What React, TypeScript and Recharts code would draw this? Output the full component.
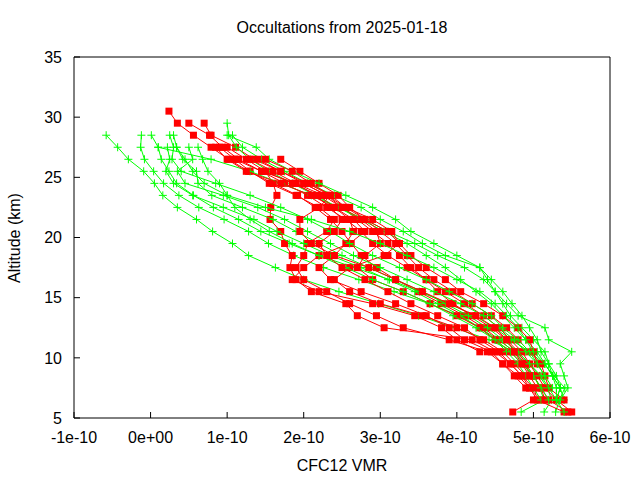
import { ScatterChart, Scatter, XAxis, YAxis } from "recharts";

// altitude levels (km), top to bottom
const alts = [
  30.5, 29.5, 28.5, 27.5, 26.5, 25.5, 24.5, 23.5, 22.5, 21.5, 20.5, 19.5, 18.5,
  17.5, 16.5, 15.5, 14.5, 13.5, 12.5, 11.5, 10.5, 9.5, 8.5, 7.5, 6.5, 5.5,
];

// CFC12 VMR in units of 1e-10, one value per altitude level (null = no data)
const g1 = [null, null, -0.58, -0.43, -0.29, -0.09, 0.05, 0.16, 0.35, 0.6, 0.81, 1.07, 1.28, 1.63, 2.0, 2.46, 2.98, 3.5, 3.97, 4.42, 4.75, 4.95, 5.08, 5.18, 5.24, 5.14];
const g2 = [null, null, -0.12, -0.13, -0.08, 0.04, 0.17, 0.37, 0.63, 0.96, 1.28, 1.54, 1.87, 2.26, 2.72, 3.18, 3.64, 4.03, 4.29, 4.55, 4.75, 4.88, 5.01, 5.08, 5.14, 4.84];
const g3 = [null, null, 0.01, 0.1, 0.14, 0.24, 0.34, 0.56, 0.82, 1.15, 1.44, 1.81, 2.2, 2.66, 3.12, 3.51, 3.9, 4.23, 4.49, 4.71, 4.95, 5.14, 5.27, 5.41, 5.34, 5.29];
const g4 = [null, 1.0, 1.02, 1.12, 1.3, 1.55, 1.85, 2.15, 2.45, 2.75, 3.05, 3.35, 3.6, 3.85, 4.05, 4.25, 4.45, 4.6, 4.75, 4.9, 5.05, 5.15, 5.25, 5.35, 5.3, null];
const g5 = [null, null, 1.07, 1.2, 1.45, 1.75, 2.05, 2.4, 2.75, 3.0, 3.3, 3.55, 3.85, 4.3, 4.4, 4.5, 4.6, 4.7, 4.85, 5.0, 5.15, 5.2, 5.3, 5.35, 5.4, null];
const g6 = [null, null, 0.3, 0.34, 0.42, 0.6, 0.62, 0.8, 1.2, 1.6, 1.9, 2.2, 2.5, 2.85, 3.2, 3.55, 3.85, 4.15, 4.4, 4.6, 4.8, 4.95, 5.1, 5.2, 5.3, null];
const g7 = [null, null, null, 0.1, 0.79, 1.3, 1.7, 2.1, 2.45, 2.8, 3.1, 3.45, 3.75, 4.1, 4.35, 4.5, 4.65, 4.8, 5.15, 5.2, 5.5, 5.35, 5.4, 5.45, 5.35, null];
const g8 = [null, null, null, 0.5, 0.55, 0.35, 0.45, 0.95, 1.4, 1.75, 2.05, 2.35, 2.65, 3.0, 3.35, 3.7, 4.05, 4.35, 4.55, 4.75, 4.9, 5.05, 5.15, 5.25, null, null];
const g9 = [null, null, null, 0.22, 0.25, 0.2, 0.3, 0.55, 0.95, 1.35, 1.65, 2.0, 2.35, 2.75, 3.1, 3.45, 3.75, 4.05, 4.3, 4.5, 4.65, 4.8, 4.9, 5.0, 5.1, null];
const g10 = [null, null, 1.0, 1.38, 1.55, 1.85, 2.2, 2.55, 2.9, 3.2, 3.4, 3.7, 4.0, 4.3, 4.45, 4.6, 4.72, 4.85, 4.95, 5.05, 5.1, 5.2, 5.25, 5.3, 5.3, 5.4];
const g11 = [null, null, 0.25, 0.3, 0.28, 0.4, 0.85, 1.3, 1.7, 2.05, 2.35, 2.6, 2.9, 3.25, 3.6, 3.9, 4.2, 4.45, 4.6, 4.8, 4.95, 5.05, 5.15, null, null, null];
const g12 = [null, null, null, 0.62, 0.68, 0.75, 0.9, 1.0, 1.1, 1.3, 1.55, 1.85, 2.2, 2.55, 2.9, 3.3, 3.65, 3.95, 4.25, 4.5, 4.7, 4.85, 5.0, 5.1, 5.2, null];
const g13 = [null, null, null, 0.34, 0.45, 0.55, 0.7, 1.0, 1.5, 2.1, 2.6, 3.0, 3.35, 3.7, 4.0, 4.3, 4.5, 4.65, 4.8, 4.9, 5.0, 5.15, 5.25, 5.35, 5.3, null];

const r1 = [0.24, 0.35, 0.56, 0.79, 1.02, 1.28, 1.6, 1.92, 2.15, 2.35, 2.5, 2.62, 2.75, 2.95, 3.2, 3.5, 3.8, 4.1, 4.35, 4.55, 4.75, 4.9, 5.0, 5.1, 5.2, 5.45];
const r2 = [null, 0.5, 0.77, 0.94, 1.15, 1.45, 1.75, 2.05, 2.3, 2.55, 2.75, 2.9, 3.1, 3.35, 3.6, 3.85, 4.1, 4.35, 4.55, 4.7, 4.85, 4.95, 5.05, 5.15, 5.3, 5.5];
const r3 = [null, 0.7, 0.79, 1.11, 1.35, 1.7, 2.0, 2.3, 2.5, 2.7, 2.9, 3.1, 3.25, 3.4, 3.6, 3.75, 3.95, 4.2, 4.45, 4.65, 4.8, 4.9, 4.95, 5.05, 5.0, 4.73];
const r4 = [null, null, null, 1.0, 1.25, 1.5, 1.6, 1.65, 1.57, 1.56, 1.7, 1.75, 1.85, 1.82, 1.9, 2.1, 2.55, 2.7, 3.05, 4.2, 4.5, 4.7, 4.85, 4.95, 5.1, null];
const r5 = [null, null, null, null, 1.7, 1.95, 2.2, 2.45, 2.6, 2.8, 3.0, 3.2, 3.35, 3.5, 3.7, 3.95, 4.2, 4.45, 4.65, 4.8, 4.95, 5.1, 5.15, 5.2, 5.4, null];
const r6 = [null, null, null, 0.9, 1.1, 1.3, 1.55, 1.9, 2.2, 2.4, 2.3, 2.05, 2.0, 1.9, 2.0, 2.3, 2.6, 2.95, 3.3, 3.9, 4.4, 4.6, 4.8, 4.95, 5.05, 5.4];
const r7 = [null, null, null, null, 1.4, 1.7, 2.05, 2.35, 2.55, 2.9, 3.15, 3.25, 3.05, 2.6, 2.4, 2.6, 3.0, 3.55, 4.0, 4.35, 4.6, 4.75, 4.9, null, null, null];
const r8 = [null, null, null, null, null, 1.5, 1.85, 2.2, 2.4, 2.6, 2.65, 2.55, 2.4, 2.2, 2.35, 2.75, 3.2, 3.6, 3.9, 4.1, 4.45, 4.6, 4.75, 4.9, null, null];
const r9 = [null, null, null, null, null, null, 2.0, 2.3, 2.55, 2.8, 3.1, 3.25, 3.4, 3.6, 3.85, 4.05, 4.35, 4.6, 4.8, 4.95, 5.0, 5.05, null, null, null, null];
const r10 = [null, null, null, 0.85, 1.0, 1.25, 1.7, 2.1, 2.4, 2.65, 2.8, 2.6, 2.2, 2.0, 1.85, 2.2, 2.9, 3.45, 3.8, 4.0, 4.3, null, null, null, null, null];
const r11 = [null, null, null, null, 1.1, 1.45, 1.9, 2.25, 2.5, 2.75, 2.95, 3.0, 2.8, 2.7, 2.9, 3.3, 3.65, 4.0, 4.3, 4.5, 4.7, 4.85, 5.0, 5.1, 5.15, null];
const r12 = [null, null, null, null, 1.3, 1.6, 1.9, 2.15, 2.35, 2.5, 2.4, 2.2, 2.3, 2.5, 2.8, 3.1, 3.4, 3.75, 4.1, 4.3, 4.55, 4.7, 4.85, 5.0, null, null];
const r13 = [null, null, null, null, 1.5, 1.85, 2.1, 2.35, 2.2, 1.95, 1.95, 2.1, 2.4, 2.85, 3.2, 3.55, 3.9, 4.25, 4.5, 4.65, 4.75, 4.85, 4.95, null, null, null];

const greens = [g1, g2, g3, g4, g5, g6, g7, g8, g9, g10, g11, g12, g13];
const reds = [r1, r2, r3, r4, r5, r6, r7, r8, r9, r10, r11, r12, r13];

const xTicks = [-1, 0, 1, 2, 3, 4, 5, 6];
const yTicks = [5, 10, 15, 20, 25, 30, 35];

const FONT = "'Liberation Sans', Arial, sans-serif";
const GREEN = "#00ff00";
const RED = "#ff0000";

const toPoints = (xs: (number | null)[]) =>
  alts
    .map((a, i) => (xs[i] == null ? null : { x: xs[i] as number, y: a }))
    .filter((p): p is { x: number; y: number } => p !== null);

const fmtX = (v: number) => (v === 0 ? "0e+00" : `${v}e-10`);

const Plus = (props: any) => {
  const { cx, cy } = props;
  if (cx == null || cy == null) return null;
  return (
    <path
      d={`M${cx - 4},${cy}H${cx + 4}M${cx},${cy - 4}V${cy + 4}`}
      stroke={GREEN}
      strokeWidth={1}
      fill="none"
    />
  );
};

const Square = (props: any) => {
  const { cx, cy } = props;
  if (cx == null || cy == null) return null;
  return <rect x={cx - 3.5} y={cy - 3.5} width={7} height={7} fill={RED} />;
};

const tickStyle = { fill: "#000", fontSize: 16, fontFamily: FONT };

export default function App() {
  const series: { key: string; data: { x: number; y: number }[]; red: boolean }[] = [];
  greens.forEach((g, i) => {
    series.push({ key: `g${i}`, data: toPoints(g), red: false });
    series.push({ key: `r${i}`, data: toPoints(reds[i]), red: true });
  });

  return (
    <div
      style={{
        position: "fixed",
        left: 0,
        top: 0,
        width: 640,
        height: 480,
        background: "#fff",
        fontFamily: FONT,
      }}
    >
      <ScatterChart
        width={640}
        height={480}
        margin={{ top: 56, right: 29, bottom: 0, left: 0 }}
      >
        <XAxis
          type="number"
          dataKey="x"
          domain={[-1, 6]}
          ticks={xTicks}
          tickFormatter={fmtX}
          height={62}
          tickSize={-6}
          tickMargin={20}
          axisLine={{ stroke: "#000" }}
          tickLine={{ stroke: "#000" }}
          tick={tickStyle}
          allowDataOverflow
        />
        <XAxis
          xAxisId="top"
          orientation="top"
          type="number"
          domain={[-1, 6]}
          ticks={xTicks}
          height={1}
          tickSize={-6}
          tick={false}
          axisLine={{ stroke: "#000" }}
          tickLine={{ stroke: "#000" }}
          allowDataOverflow
        />
        <YAxis
          type="number"
          dataKey="y"
          domain={[5, 35]}
          ticks={yTicks}
          width={74}
          tickSize={-6}
          tickMargin={18}
          axisLine={{ stroke: "#000" }}
          tickLine={{ stroke: "#000" }}
          tick={tickStyle}
          allowDataOverflow
        />
        <YAxis
          yAxisId="right"
          orientation="right"
          type="number"
          domain={[5, 35]}
          ticks={yTicks}
          width={1}
          tickSize={-6}
          tick={false}
          axisLine={{ stroke: "#000" }}
          tickLine={{ stroke: "#000" }}
          allowDataOverflow
        />
        {series.map((s) => (
          <Scatter
            key={s.key}
            data={s.data}
            line={{ stroke: s.red ? RED : GREEN, strokeWidth: 1 }}
            shape={s.red ? Square : Plus}
            isAnimationActive={false}
          />
        ))}
      </ScatterChart>
      <div
        style={{
          position: "absolute",
          left: 74,
          width: 536,
          top: 20,
          textAlign: "center",
          fontSize: 16,
          lineHeight: "16px",
        }}
      >
        Occultations from 2025-01-18
      </div>
      <div
        style={{
          position: "absolute",
          left: 74,
          width: 536,
          top: 458,
          textAlign: "center",
          fontSize: 16,
          lineHeight: "16px",
        }}
      >
        CFC12 VMR
      </div>
      <div
        style={{
          position: "absolute",
          left: 15,
          top: 238,
          transform: "translate(-50%, -50%) rotate(-90deg)",
          whiteSpace: "nowrap",
          fontSize: 16,
          lineHeight: "16px",
        }}
      >
        Altitude (km)
      </div>
    </div>
  );
}
